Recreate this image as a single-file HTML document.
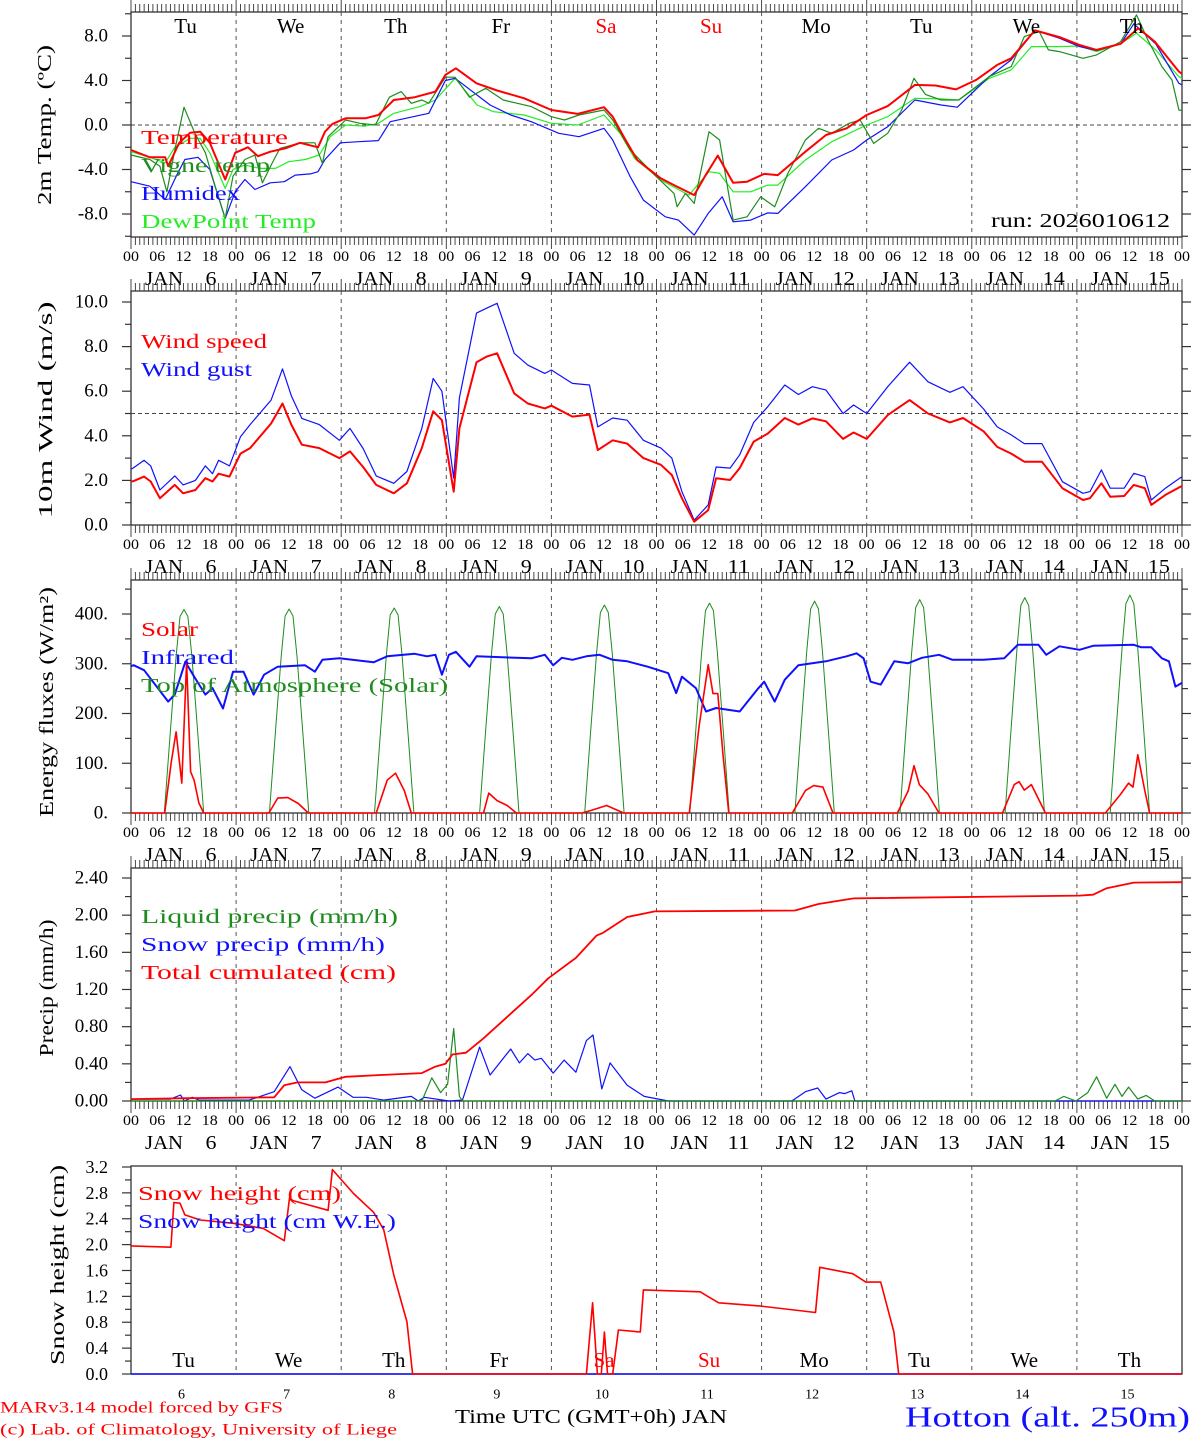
<!DOCTYPE html>
<html><head><meta charset="utf-8"><style>
html,body{margin:0;padding:0;background:#fff;}
svg{display:block;font-family:"Liberation Serif",serif;}
</style></head><body>
<svg id="chart" width="1194" height="1440" viewBox="0 0 1194 1440" xmlns="http://www.w3.org/2000/svg">
<rect x="0" y="0" width="1194" height="1440" fill="#fff"/>
</svg>
<script>
// ---------- DATA ----------
const dayNames = ["Tu","We","Th","Fr","Sa","Su","Mo","Tu","We","Th"];
const dayNums = ["6","7","8","9","10","11","12","13","14","15"];
const hourLabels = ["00","06","12","18"];

const tempTicks = [8,4,0,-4,-8];
const tempTickLabels = ["8.0","4.0","0.0","-4.0","-8.0"];
const windTicks = [10,8,6,4,2,0];
const windTickLabels = ["10.0","8.0","6.0","4.0","2.0","0.0"];
const energyTicks = [400,300,200,100,0];
const energyTickLabels = ["400.","300.","200.","100.","0."];
const precipTicks = [2.4,2.0,1.6,1.2,0.8,0.4,0];
const precipTickLabels = ["2.40","2.00","1.60","1.20","0.80","0.40","0.00"];
const snowTicks = [3.2,2.8,2.4,2.0,1.6,1.2,0.8,0.4,0];
const snowTickLabels = ["3.2","2.8","2.4","2.0","1.6","1.2","0.8","0.4","0.0"];

const temp_h = [0,4.3,7.8,8.5,11,13.5,15.8,18,21.5,23.8,26.7,29,31.8,35.2,38.6,42.7,44.3,46,49,53.5,56.5,60,64.8,69.5,71.8,74.2,78.9,83.6,89.8,96,102,108,110,112.5,115.6,121,124,128.6,131,134,137.5,140.7,144.6,147.7,154,158.7,163.4,168,172.8,179,183.7,188.4,193,197.8,201,206.4,212,216.6,220.5,226,230,233.8,239.3,240];
const temp_v = [-2.25,-2.9,-2.9,-3.7,-1.6,-0.7,-0.6,-1.6,-4.9,-2.5,-2.0,-2.8,-2.4,-2.1,-1.6,-2.0,-0.6,0.1,0.6,0.6,0.9,2.25,2.5,3.0,4.5,5.1,3.75,3.1,2.4,1.35,1.0,1.6,0.75,-1.05,-3.15,-4.8,-5.4,-6.3,-4.65,-2.75,-5.2,-5.1,-4.4,-4.5,-2.4,-0.9,-0.3,0.9,1.7,3.6,3.55,3.2,4.05,5.4,6.0,8.5,7.9,7.2,6.75,7.3,8.7,7.5,4.8,4.6];

const vigne_h = [0,4.3,6.6,8.2,10,12.1,14.6,17,19.2,21.5,23.3,26,28.3,30,32.2,34,38.6,42,43.7,45,49,52.3,55.8,59,61.7,64,66.4,68,71.8,74,77.3,81,85,91.4,96,99,102.3,108,110,114,119.6,124,124.7,126.6,128.6,132,134.4,137.5,140.7,143.8,147,150,154,157,160,164,166.5,169.6,172.8,176,178.8,181.4,185,189,196,201,204,207.4,209.5,212,217.4,220.5,226,229.6,232.2,235.4,237.7,239.3,240];
const vigne_v = [-2.7,-3.1,-3.7,-6.0,-2.25,1.6,-0.75,-2.5,-5.5,-8.4,-4.6,-3.1,-2.7,-5.2,-3.45,-2.1,-1.6,-1.6,-3.45,-1.05,0.45,0.15,0,2.5,3.0,1.95,2.25,1.95,4.3,4.3,2.5,3.3,2.25,1.65,0.75,0.45,0.9,1.35,0.45,-2.25,-4.5,-6.15,-7.35,-6.15,-7.05,-0.6,-1.35,-8.55,-8.25,-6.45,-7.35,-4.35,-1.35,-0.3,-0.75,0.15,0.45,-1.65,-0.75,1.35,4.2,2.75,2.25,2.25,4.35,5.25,7.95,8.4,6.75,6.6,6.0,6.3,7.5,9.9,7.65,5.25,4.05,1.35,1.3];

const humidex_h = [0,4.3,7.8,10.7,12.3,15.3,18,21.5,23.8,26,28.3,31.8,35,37.5,41,42.7,44.3,47.8,52,56.5,59.2,68,71.8,74,82,86.7,91.4,97.7,102.3,108,110,114,117,122,125,128.6,131.8,135,137.5,141.5,145.4,147.7,154,160,165,168,172.8,179,185,188.7,196,201,206.4,212,216.6,220.5,226,229,234,239.3,240];
const humidex_v = [-5.1,-5.5,-6.7,-4.3,-3.1,-2.9,-4.0,-8.4,-6.0,-4.9,-5.8,-5.2,-5.1,-4.5,-4.4,-4.2,-3.1,-1.6,-1.5,-1.4,0.3,1.05,4.0,4.2,1.8,0.9,0.3,-0.75,-1.05,-0.3,-1.35,-4.65,-6.75,-8.25,-8.55,-9.9,-7.95,-6.45,-8.7,-8.55,-7.9,-7.95,-5.55,-3.15,-2.25,-1.35,-0.15,2.25,1.8,1.6,4.35,5.85,8.5,7.8,7.05,6.7,7.3,9.1,7.3,3.75,3.6];

const dew_h = [0,4.3,7.8,10,13.5,15.8,18,21.5,23.3,26,29.5,33,36,39.8,43,45.5,49,53.5,56.5,60,66,69.5,74,79,82.8,89.8,96,102,108,111.7,115,121,127.4,132,134.4,137.5,141.5,145.4,147.7,154,160,168,172.8,179,185,189,196,201,205.6,212,216.6,220.5,226,229.6,234,239.3,240];
const dew_v = [-2.4,-2.9,-3.4,-2.0,-1.2,-1.2,-2.5,-5.7,-4.0,-3.6,-3.9,-3.9,-3.3,-3.1,-2.7,-1.05,0,-0.1,0.15,1.05,1.65,2.25,4.2,1.8,1.2,0.9,0.15,0,0.9,-0.75,-3.0,-4.95,-6.3,-4.2,-4.35,-6.0,-6.0,-5.4,-5.4,-3.15,-1.5,0,0.75,2.4,2.35,2.25,4.2,4.95,7.05,7.05,7.1,6.6,7.3,8.25,6.75,4.35,4.2];

const wind_h = [0,0.6,3,4.5,6.6,10,11.9,14.7,17,18.6,20,22.5,25,27.2,32,34.6,36.6,39,43,47.6,50,53,56,60,63,66.4,69,71,73.7,75,78.9,81.2,83.6,87.5,90.6,94.5,96,100.8,104.7,106.6,110,113.3,117,121,123.5,125.8,128.6,131.8,133.6,136.8,139,142.2,145.4,149.3,152.4,155.6,158.7,162.6,165,168,172.8,177.8,182,187,190,194.7,197.8,201,204,208,212.7,217.4,219,221.6,223.6,226.8,229,231.5,233,236.2,239.7,240];
const windSpeed_v = [1.95,1.97,2.17,1.95,1.2,1.8,1.42,1.57,2.1,1.95,2.3,2.17,3.2,3.45,4.55,5.45,4.5,3.6,3.45,3.0,3.3,2.6,1.8,1.42,1.87,3.45,5.1,4.7,1.5,4.33,7.3,7.55,7.7,5.9,5.45,5.23,5.35,4.86,4.95,3.36,3.8,3.65,3.0,2.7,2.24,1.2,0.15,0.67,2.1,2.02,2.55,3.74,4.1,4.8,4.5,4.78,4.65,3.86,4.15,3.86,4.93,5.6,5.0,4.6,4.8,4.2,3.5,3.2,2.84,2.84,1.65,1.12,1.2,1.87,1.27,1.3,1.8,1.65,0.9,1.35,1.72,1.75];
const windGust_v = [2.5,2.57,2.9,2.65,1.57,2.2,1.8,2.0,2.65,2.3,2.9,2.65,3.96,4.5,5.6,7.0,5.8,4.78,4.5,3.8,4.33,3.43,2.2,1.87,2.4,4.33,6.57,6.0,2.1,5.7,9.5,9.72,9.94,7.7,7.17,6.8,6.95,6.35,6.28,4.4,4.8,4.7,3.8,3.45,3.0,1.5,0.22,0.9,2.6,2.55,3.15,4.6,5.3,6.28,5.85,6.2,6.05,5.0,5.38,5.0,6.2,7.3,6.42,5.95,6.2,5.2,4.4,4.04,3.65,3.65,1.94,1.42,1.5,2.47,1.65,1.65,2.32,2.17,1.12,1.65,2.13,2.15];

const solar_h = [0,7.7,9.2,10.3,11.6,12.7,13.6,14.4,15.5,16.6,31.5,33.5,35.8,38.2,40.5,56,58.5,60.4,62.4,64,80.5,81.7,83.6,85.9,88,103,105,108.6,112.5,127.5,129.7,131.8,132.9,134,135.2,136.5,151,154,155.9,158,160.3,175,177.5,178.8,180,182,184.5,199,201.7,202.8,204,205.6,208.8,222.5,226,227.8,228.8,229.9,231.5,232.6,240];
const solar_v = [0,0,103,163,60,304,83,66,20,0,0,30,31,19,0,0,66,80,45,0,0,40,25,15,0,0,5,15,0,0,173,298,240,240,115,0,0,45,55,52,0,0,45,95,57,38,0,0,57,63,46,57,0,0,38,60,52,117,45,0,0];

const ir_h = [0,0.6,3,8.5,10,12.4,14.7,17,18.6,21,23.3,25.7,28,30.4,33.5,39.7,42,43.7,47.6,55.4,58.5,64.8,67.6,69.5,71,72.6,74.2,77.3,78.9,91.4,94.5,96.4,98.4,100.8,104,107,110,113.3,118,122.7,124.5,125.8,129,131.3,133.6,139,143,144.6,147,149.3,152.4,158.7,163.4,165.7,167.3,168.9,171.2,174.3,177.4,180.6,184.5,187.6,194.7,199.4,202.5,207.2,209,212,216.6,219.7,229,230.7,233,235.4,237,238.5,239.7,240];
const ir_v = [295,297,287,224,238,304,270,238,251,210,284,284,238,278,294,297,284,308,311,303,315,320,315,318,278,318,324,294,315,311,318,297,312,308,315,318,308,305,294,281,241,274,251,204,211,204,248,264,224,268,297,305,315,321,311,264,258,305,301,312,318,308,308,311,338,338,318,335,328,336,338,333,333,311,305,254,260,262];

const toa_h = [0,7.6,9,10.3,11.2,12.1,13,13.9,15.2,16.6,31.6,33,34.3,35.2,36.1,37,37.9,39.2,40.6,55.6,57,58.3,59.2,60.1,61,61.9,63.2,64.6,79.6,81,82.3,83.2,84.1,85,85.9,87.2,88.6,103.6,105,106.3,107.2,108.1,109,109.9,111.2,112.6,127.6,129,130.3,131.2,132.1,133,133.9,135.2,136.6,151.6,153,154.3,155.2,156.1,157,157.9,159.2,160.6,175.6,177,178.3,179.2,180.1,181,181.9,183.2,184.6,199.6,201,202.3,203.2,204.1,205,205.9,207.2,208.6,223.6,225,226.3,227.2,228.1,229,229.9,231.2,232.6,240];
const toa_v = [0,0,165,315,395,409,395,315,165,0,0,165,315,396,410,396,315,165,0,0,166,316,398,412,398,316,166,0,0,167,318,400,415,400,318,167,0,0,168,320,403,418,403,320,168,0,0,169,322,407,422,407,322,169,0,0,170,324,410,426,410,324,170,0,0,171,326,413,429,413,326,171,0,0,172,328,417,433,417,328,172,0,0,173,330,421,438,421,330,173,0,0];

const liquid_h = [0,66.4,68.7,70.7,72.3,73.7,75,75.7,211,213,215.8,218.5,220.5,222.8,224.7,226.3,227.8,229.9,231.8,233.8,240];
const liquid_v = [0,0,0.25,0.09,0.18,0.78,0.05,0,0,0.05,0,0.09,0.26,0.03,0.18,0.05,0.15,0.02,0.06,0,0];
const snowp_h = [0,9,11.3,12.2,14,15.5,27,32.7,36.3,39,42,47.3,50.7,53.8,57.7,64,65.6,67,72.6,75.7,79.6,82,86.7,88.7,90.6,92.2,93.7,96.4,98.9,101.6,104,105.5,107.5,109.4,113.3,117.2,122.7,150.9,154,156.8,158.7,161.8,163,164.6,165.3,240];
const snowp_v = [0.02,0.02,0.065,0.0,0.04,0.01,0.01,0.1,0.37,0.12,0.03,0.15,0.04,0.04,0.01,0.05,0.0,0.04,0.0,0.01,0.58,0.28,0.56,0.41,0.51,0.44,0.46,0.3,0.44,0.31,0.65,0.71,0.13,0.41,0.17,0.05,0.0,0.0,0.1,0.14,0.02,0.09,0.08,0.11,0.0,0.0];
const cum_h = [0,13,32.7,35,38,44.4,49,57,66.4,69.5,71.8,73.4,76.5,80.4,86.7,91.4,95.3,101.6,106.3,107.8,113.3,119.6,151.6,157,165,216.6,219.7,222.8,229,240];
const cum_v = [0.02,0.03,0.04,0.17,0.2,0.2,0.26,0.28,0.3,0.37,0.4,0.5,0.52,0.67,0.94,1.14,1.32,1.54,1.78,1.81,1.98,2.04,2.05,2.12,2.18,2.21,2.22,2.29,2.35,2.355];

const snowH_h = [0,9.1,9.8,11.2,12.3,15.8,23.4,30.2,35,36.2,37,45,46,50.8,55.4,57.7,60,63,64.3,104,105.4,106.5,107.4,108.1,108.8,110,111.3,116.3,117,130,131.2,134.2,143.8,156.3,157.3,164.8,167.8,171.2,174.2,175.3,240];
const snowH_v = [1.98,1.96,2.65,2.64,2.46,2.38,2.33,2.25,2.06,2.72,2.68,2.53,3.16,2.79,2.5,2.23,1.53,0.81,0,0,1.1,0,0,0.65,0,0,0.68,0.65,1.3,1.27,1.22,1.1,1.05,0.95,1.65,1.55,1.42,1.42,0.65,0,0];
const snowWE_h = [0,240];
const snowWE_v = [0,0];

// ---------- DRAWING ----------
const NS = 'http://www.w3.org/2000/svg';
const svg = document.getElementById('chart');
function mk(tag, attrs, parent){
  const e = document.createElementNS(NS, tag);
  for (const k in attrs) e.setAttribute(k, attrs[k]);
  (parent || svg).appendChild(e);
  return e;
}
const X0 = 131, X1 = 1182, PXH = (X1 - X0) / 240;
function xh(h){ return X0 + h * PXH; }
function yScale(p){ return v => p.zero - v * p.k; }

function txt(x, y, s, size, color, anchor, len, name, g){
  const a = {x:x, y:y, 'font-size':size, fill:color||'#000', 'text-anchor':anchor||'middle', 'dominant-baseline':'central'};
  if (len) { a.textLength = len; a.lengthAdjust = 'spacingAndGlyphs'; }
  const t = mk('text', a, g);
  t.textContent = s;
  
  
  return t;
}

function series(p, hs, vs, color, w, name){
  const y = yScale(p);
  const pts = hs.map((h, i) => xh(h).toFixed(1) + ',' + y(vs[i]).toFixed(1)).join(' ');
  const pl = mk('polyline', {points:pts, fill:'none', stroke:color, 'stroke-width':w, 'stroke-linejoin':'round'}, p.g);
  
  
}

function panel(p){
  const g = mk('g', {});
  
  
  p.g = g;
  const y = yScale(p);
  const fr = mk('rect', {x:X0, y:p.top, width:X1-X0, height:p.bot-p.top, fill:'none', stroke:'#333', 'stroke-width':1.3}, g);
  
  
  for (let d = 1; d < 10; d++){
    const l = mk('line', {x1:xh(d*24), x2:xh(d*24), y1:p.top, y2:p.bot, stroke:'#555', 'stroke-width':1, 'stroke-dasharray':'4,4'}, g);
    
    
  }
  if (p.hline !== undefined){
    const l = mk('line', {x1:X0, x2:X1, y1:y(p.hline), y2:y(p.hline), stroke:'#444', 'stroke-width':1, 'stroke-dasharray':'4,3'}, g);
    
    
  }
  for (let v = p.minorMin; v <= p.minorMax + 1e-6; v += p.minor){
    const major = p.ticks.some(t => Math.abs(t - v) < 1e-6);
    const len = major ? 9 : 6;
    const l1 = mk('line', {x1:X0-len, x2:X0, y1:y(v), y2:y(v), stroke:'#333', 'stroke-width':1.2}, g);
    
    
    if (p.rightTicks){
      const l2 = mk('line', {x1:X1, x2:X1+len, y1:y(v), y2:y(v), stroke:'#333', 'stroke-width':1.2}, g);
      
      
    }
  }
  p.ticks.forEach((t, i) => txt(108, y(t), p.tickLabels[i], p.tickSize || 19, '#000', 'end', null, 'y-tick-label', g));
  const tt = mk('text', {x:0, y:0, 'font-size':20, fill:'#000', 'text-anchor':'middle', 'dominant-baseline':'central', textLength:p.titleLen, lengthAdjust:'spacingAndGlyphs', transform:'translate(' + p.titleX + ',' + p.titleY + ') rotate(-90)'}, g);
  tt.textContent = p.title;
  
  
  if (p.hourAxis){
    for (let h = 0; h <= 240; h++){
      const len = (h % 24 === 0) ? 12 : 8;
      const a = mk('line', {x1:xh(h), x2:xh(h), y1:p.top-len, y2:p.top, stroke:'#333', 'stroke-width':0.9}, g);
      
      
      const b = mk('line', {x1:xh(h), x2:xh(h), y1:p.bot, y2:p.bot+len, stroke:'#333', 'stroke-width':0.9}, g);
      
      
    }
    for (let d = 0; d <= 10; d++){
      for (let q = 0; q < 4; q++){
        if (d === 10 && q > 0) break;
        txt(xh(d*24 + q*6), p.bot + 20, hourLabels[q], 15, '#000', 'middle', 16, 'hour-label', g);
      }
      if (d < 10){
        txt(xh(d*24) + 33, p.bot + 42, 'JAN', 20, '#000', 'middle', 38, 'month-label', g);
        txt(xh(d*24) + (dayNums[d].length > 1 ? 82 : 80), p.bot + 42, dayNums[d], 20, '#000', 'middle', dayNums[d].length > 1 ? 22 : 11, 'date-label', g);
      }
    }
  }
  return p;
}

function legend(p, items){
  items.forEach((it, i) => txt(p.legX, p.legY + i*28, it[0], 20, it[1], 'start', it[2], 'legend-entry', p.g));
}

const P1 = panel({name:'temperature-panel', top:12, bot:237, zero:125, k:11.125, ticks:tempTicks, tickLabels:tempTickLabels, minor:2, minorMin:-10, minorMax:10, hline:0, title:'2m Temp. (ºC)', titleX:45, titleY:125, titleLen:160, hourAxis:true, rightTicks:true});
series(P1, dew_h, dew_v, '#22ee22', 1.2, 'dewpoint-line');
series(P1, humidex_h, humidex_v, '#1010ff', 1.2, 'humidex-line');
series(P1, vigne_h, vigne_v, '#1e8c1e', 1.2, 'vigne-temp-line');
series(P1, temp_h, temp_v, '#ff0000', 2, 'temperature-line');
dayNames.forEach((d, i) => txt(xh(i*24 + 12) + 2, 26, d, 21, (i === 4 || i === 5) ? '#ff0000' : '#000', 'middle', null, 'weekday-label', P1.g));
P1.legX = 141; P1.legY = 138;
legend(P1, [['Temperature','#ff0000',147],['Vigne temp','#1e8c1e',129],['Humidex','#1010ff',99],['DewPoint Temp','#22ee22',175]]);
txt(1170, 221, 'run: 2026010612', 20, '#000', 'end', 179, 'run-label', P1.g);

const P2 = panel({name:'wind-panel', top:291, bot:525, zero:525, k:22.3, ticks:windTicks, tickLabels:windTickLabels, minor:1, minorMin:0, minorMax:10, hline:5, title:'10m Wind (m/s)', titleX:46, titleY:410, titleLen:217, hourAxis:true, rightTicks:true});
series(P2, wind_h, windGust_v, '#1010ff', 1.2, 'wind-gust-line');
series(P2, wind_h, windSpeed_v, '#ff0000', 2, 'wind-speed-line');
P2.legX = 141; P2.legY = 342;
legend(P2, [['Wind speed','#ff0000',126],['Wind gust','#1010ff',111]]);

const P3 = panel({name:'energy-panel', top:580, bot:813, zero:813, k:0.4975, ticks:energyTicks, tickLabels:energyTickLabels, minor:50, minorMin:0, minorMax:450, title:'Energy fluxes (W/m²)', titleX:47, titleY:702, titleLen:230, hourAxis:true, rightTicks:true});
series(P3, toa_h, toa_v, '#1e8c1e', 1, 'toa-solar-line');
series(P3, ir_h, ir_v, '#1010ff', 2, 'infrared-line');
series(P3, solar_h, solar_v, '#ff0000', 1.6, 'solar-line');
P3.legX = 141; P3.legY = 630;
legend(P3, [['Solar','#ff0000',57],['Infrared','#1010ff',93],['Top of Atmosphere (Solar)','#1e8c1e',307]]);

const P4 = panel({name:'precip-panel', top:868, bot:1101, zero:1101, k:92.92, ticks:precipTicks, tickLabels:precipTickLabels, minor:0.2, minorMin:0, minorMax:2.4, title:'Precip (mm/h)', titleX:47, titleY:988, titleLen:137, hourAxis:true, rightTicks:true});
series(P4, snowp_h, snowp_v, '#1010ff', 1.2, 'snow-precip-line');
series(P4, liquid_h, liquid_v, '#1e8c1e', 1.2, 'liquid-precip-line');
series(P4, cum_h, cum_v, '#ff0000', 1.8, 'total-cumulated-line');
P4.legX = 141; P4.legY = 917;
legend(P4, [['Liquid precip (mm/h)','#1e8c1e',257],['Snow precip (mm/h)','#1010ff',244],['Total cumulated (cm)','#ff0000',255]]);

const P5 = panel({name:'snow-panel', top:1166, bot:1374, zero:1374, k:64.69, ticks:snowTicks, tickLabels:snowTickLabels, minor:0.2, minorMin:0, minorMax:3.2, title:'Snow height (cm)', titleX:58, titleY:1265, titleLen:200, tickSize:18, hourAxis:false, rightTicks:false});
series(P5, snowWE_h, snowWE_v, '#1010ff', 1.5, 'snow-we-line');
series(P5, snowH_h, snowH_v, '#ff0000', 1.6, 'snow-height-line');
dayNames.forEach((d, i) => txt(xh(i*24 + 12), 1360, d, 21, (i === 4 || i === 5) ? '#ff0000' : '#000', 'middle', null, 'weekday-label', P5.g));
dayNums.forEach((d, i) => txt(xh(i*24 + 12) - 2, 1395, d, 14, '#000', 'middle', null, 'date-label', P5.g));
P5.legX = 138; P5.legY = 1194;
legend(P5, [['Snow height (cm)','#ff0000',203],['Snow height (cm W.E.)','#1010ff',258]]);

txt(591, 1417, 'Time UTC (GMT+0h) JAN', 20, '#000', 'middle', 272, 'x-axis-title');
txt(1190, 1418, 'Hotton (alt. 250m)', 28, '#1010ff', 'end', 285, 'station-title');
txt(0, 1408, 'MARv3.14 model forced by GFS', 16, '#ff0000', 'start', 283, 'model-credit');
txt(0, 1430, '(c) Lab. of Climatology, University of Liege', 16, '#ff0000', 'start', 397, 'lab-credit');
</script>
</body></html>
